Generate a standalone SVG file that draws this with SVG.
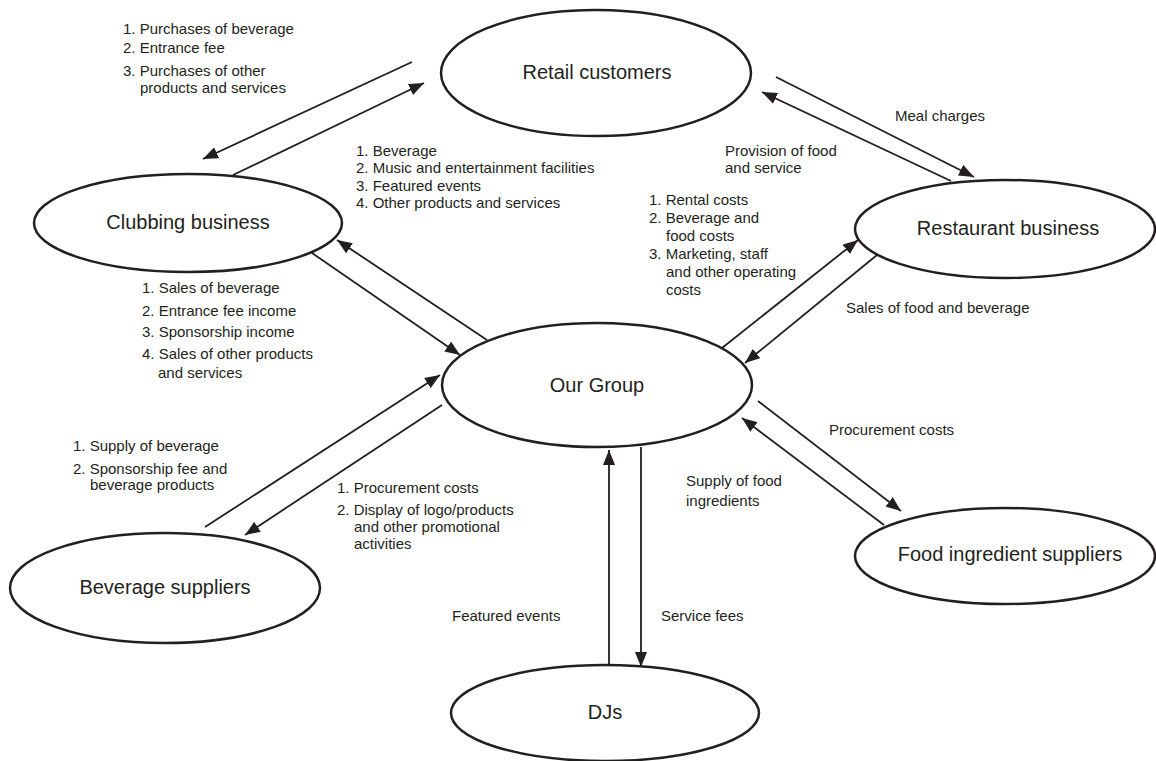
<svg xmlns="http://www.w3.org/2000/svg" width="1156" height="761" viewBox="0 0 1156 761">
<style>
.node ellipse{fill:#fff;stroke:#231f20;stroke-width:2.5}
.node text{font-family:"Liberation Sans",Arial,sans-serif;font-size:20px;fill:#231f20;text-anchor:middle}
.lbl{font-family:"Liberation Sans",Arial,sans-serif;font-size:15px;fill:#231f20}
#connectors line{stroke:#231f20;stroke-width:1.8;fill:none}
</style>
<defs>
<marker id="ah" markerUnits="userSpaceOnUse" markerWidth="16" markerHeight="12" refX="15" refY="6" orient="auto">
<path d="M0,0 L15,6 L0,12 z" fill="#231f20"/>
</marker>
</defs>
<rect width="1156" height="761" fill="#fff"/>
<g id="connectors">
<line x1="412" y1="62" x2="203" y2="159" marker-end="url(#ah)"/>
<line x1="233" y1="175" x2="424" y2="83" marker-end="url(#ah)"/>
<line x1="776" y1="77" x2="974" y2="177" marker-end="url(#ah)"/>
<line x1="951" y1="181" x2="762" y2="92" marker-end="url(#ah)"/>
<line x1="487" y1="340" x2="337" y2="240" marker-end="url(#ah)"/>
<line x1="312" y1="253" x2="460" y2="355" marker-end="url(#ah)"/>
<line x1="722" y1="348" x2="858" y2="240" marker-end="url(#ah)"/>
<line x1="877" y1="255" x2="745" y2="363" marker-end="url(#ah)"/>
<line x1="205" y1="527" x2="440" y2="375" marker-end="url(#ah)"/>
<line x1="442" y1="405" x2="245" y2="535" marker-end="url(#ah)"/>
<line x1="758" y1="401" x2="901" y2="511" marker-end="url(#ah)"/>
<line x1="884" y1="525" x2="742" y2="418" marker-end="url(#ah)"/>
<line x1="609" y1="665" x2="609" y2="450" marker-end="url(#ah)"/>
<line x1="641" y1="447" x2="641" y2="667" marker-end="url(#ah)"/>
</g>
<g id="retail" class="node"><ellipse cx="596" cy="73" rx="155" ry="63"/><text x="597" y="79">Retail customers</text></g>
<g id="clubbing" class="node"><ellipse cx="188" cy="223" rx="154" ry="49"/><text x="188" y="229">Clubbing business</text></g>
<g id="restaurant" class="node"><ellipse cx="1005" cy="229" rx="150" ry="49"/><text x="1008" y="235">Restaurant business</text></g>
<g id="ourgroup" class="node"><ellipse cx="597" cy="385" rx="155" ry="62"/><text x="597" y="392">Our Group</text></g>
<g id="beverage" class="node"><ellipse cx="165" cy="588" rx="155" ry="55"/><text x="165" y="594">Beverage suppliers</text></g>
<g id="food" class="node"><ellipse cx="1005" cy="556" rx="150" ry="48"/><text x="1010" y="561">Food ingredient suppliers</text></g>
<g id="djs" class="node"><ellipse cx="605" cy="713" rx="154" ry="48"/><text x="605" y="719">DJs</text></g>
<g id="labels" class="lbl">
<text x="123" y="34">1. Purchases of beverage</text>
<text x="123" y="53">2. Entrance fee</text>
<text x="123" y="76">3. Purchases of other</text>
<text x="140" y="93">products and services</text>
<text x="356" y="156">1. Beverage</text>
<text x="356" y="173">2. Music and entertainment facilities</text>
<text x="356" y="191">3. Featured events</text>
<text x="356" y="208">4. Other products and services</text>
<text x="895" y="121">Meal charges</text>
<text x="725" y="156">Provision of food</text>
<text x="725" y="173">and service</text>
<text x="649" y="205">1. Rental costs</text>
<text x="649" y="223">2. Beverage and</text>
<text x="666" y="241">food costs</text>
<text x="649" y="259">3. Marketing, staff</text>
<text x="666" y="277">and other operating</text>
<text x="666" y="295">costs</text>
<text x="846" y="313">Sales of food and beverage</text>
<text x="142" y="293">1. Sales of beverage</text>
<text x="142" y="316">2. Entrance fee income</text>
<text x="142" y="337">3. Sponsorship income</text>
<text x="142" y="359">4. Sales of other products</text>
<text x="158" y="378">and services</text>
<text x="73" y="451">1. Supply of beverage</text>
<text x="73" y="474">2. Sponsorship fee and</text>
<text x="90" y="490">beverage products</text>
<text x="337" y="493">1. Procurement costs</text>
<text x="337" y="515">2. Display of logo/products</text>
<text x="354" y="532">and other promotional</text>
<text x="354" y="549">activities</text>
<text x="829" y="435">Procurement costs</text>
<text x="686" y="486">Supply of food</text>
<text x="686" y="506">ingredients</text>
<text x="452" y="621">Featured events</text>
<text x="661" y="621">Service fees</text>
</g>
</svg>
